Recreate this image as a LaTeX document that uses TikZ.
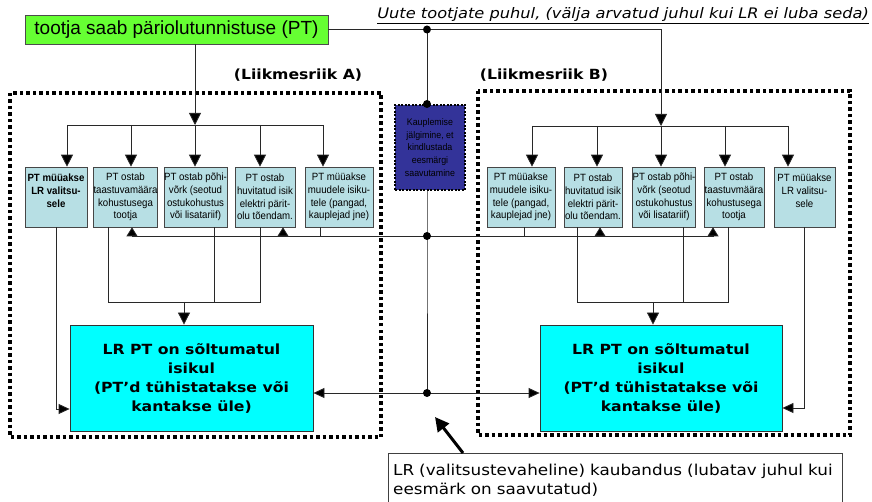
\documentclass[tikz,border=0pt]{standalone}
\usepackage{fontspec}
\setmainfont{Liberation Sans}
\newfontfamily\narrowfont[FakeStretch=0.92]{Liberation Sans}
\newfontfamily\verdfont[FakeStretch=1.12]{DejaVu Sans}
\usetikzlibrary{arrows.meta,calc}
\definecolor{linec}{RGB}{40,40,40}
\definecolor{sboxfill}{RGB}{183,223,228}
\definecolor{boxline}{RGB}{70,70,70}
\definecolor{greenfill}{RGB}{102,255,51}
\definecolor{cyanfill}{RGB}{0,255,255}
\definecolor{bluefill}{RGB}{51,51,153}
\begin{document}
\begin{tikzpicture}[x=1pt,y=-1pt,
  conn/.style={draw=linec, line width=0.8pt},
  arr/.style={conn, -{Triangle[width=12pt,length=12pt,fill=black]}},
  sarr/.style={conn, -{Triangle[width=11pt,length=9pt,fill=black]}},
  harr/.style={conn, -{Triangle[width=10pt,length=11pt,fill=black]}},
  sbox/.style={draw=boxline, fill=sboxfill, line width=0.6pt, minimum height=60pt, inner sep=0pt, align=center, font=\narrowfont\fontsize{10.5}{12.8}\selectfont},
  bigbox/.style={draw=black!80, fill=cyanfill, line width=0.8pt, minimum height=106pt, inner sep=0pt, align=center, font=\verdfont\bfseries\fontsize{14}{19}\selectfont},
  framebox/.style={line width=3.5pt, dash pattern=on 3.5pt off 3pt},
  lbl/.style={font=\verdfont\bfseries\fontsize{14}{16}\selectfont, inner sep=0pt},
  dotfill/.style={fill=black}
]
\useasboundingbox (0,0) rectangle (872,502);

% frames
\draw[framebox] (10,93) rectangle (381,437);
\draw[framebox] (478,91) rectangle (850,435);

% top nodes
\node[draw=black!70, fill=greenfill, line width=0.8pt, minimum width=303pt, minimum height=29pt, inner sep=0pt,
      font=\fontsize{19}{21}\selectfont] (G) at (176.5,29.5) {tootja saab päriolutunnistuse (PT)};
\node[anchor=east, inner sep=0pt, font=\verdfont\itshape\fontsize{14.5}{16}\selectfont] (U) at (869,16)
  {\underline{Uute tootjate puhul, (välja arvatud juhul kui LR ei luba seda)}};
\node[lbl] (LA) at (298,75) {(Liikmesriik A)};
\node[lbl] (LB) at (544,75) {(Liikmesriik B)};

\node[draw=black, fill=bluefill, line width=2pt, dash pattern=on 2pt off 1.5pt, minimum width=70pt, minimum height=85pt,
      inner sep=0pt, align=center, text=black, font=\narrowfont\fontsize{9.6}{12.8}\selectfont] (K) at (430,147.5)
  {Kauplemise\\jälgimine, et\\kindlustada\\eesmärgi\\saavutamine};

% small boxes A
\node[sbox, minimum width=62pt, font=\narrowfont\bfseries\fontsize{10.5}{12.8}\selectfont] (A1) at (56,197) {PT müüakse\\LR valitsu-\\sele\\\mbox{}};
\node[sbox, minimum width=59pt] (A2) at (125.5,197) {PT ostab\\taastuvamäära\\kohustusega\\tootja};
\node[sbox, minimum width=61pt] (A3) at (195.5,197) {PT ostab põhi-\\võrk (seotud\\ostukohustus\\või lisatariif)};
\node[sbox, minimum width=60pt] (A4) at (265,197) {PT ostab\\huvitatud isik\\elektri pärit-\\olu tõendam.};
\node[sbox, minimum width=68pt] (A5) at (339,197) {PT müüakse\\muudele isiku-\\tele (pangad,\\kauplejad jne)};

% small boxes B
\node[sbox, minimum width=68pt] (B1) at (521,197) {PT müüakse\\muudele isiku-\\tele (pangad,\\kauplejad jne)};
\node[sbox, minimum width=58pt] (B2) at (593,197) {PT ostab\\huvitatud isik\\elektri pärit-\\olu tõendam.};
\node[sbox, minimum width=60pt] (B3) at (664,197) {PT ostab põhi-\\võrk (seotud\\ostukohustus\\või lisatariif)};
\node[sbox, minimum width=60pt] (B4) at (734,197) {PT ostab\\taastuvmäära\\kohustusega\\tootja};
\node[sbox, minimum width=61pt] (B5) at (804.5,197) {PT müüakse\\LR valitsu-\\sele\\\mbox{}};

% big boxes
\node[bigbox, minimum width=243pt] (BA) at (191.5,378) {LR PT on sõltumatul\\isikul\\(PT’d tühistatakse või\\kantakse üle)};
\node[bigbox, minimum width=242pt] (BB) at (661,378) {LR PT on sõltumatul\\isikul\\(PT’d tühistatakse või\\kantakse üle)};

% callout
\node[anchor=north west, inner xsep=5pt, inner ysep=0pt, align=left, text width=444pt, minimum width=454pt, minimum height=55pt,
      font=\verdfont\fontsize{15}{19}\selectfont] (C) at (388,453)
  {LR (valitsustevaheline) kaubandus (lubatav juhul kui\\eesmärk on saavutatud)};
\draw[draw=black!75, line width=0.8pt] (C.south west) -- (C.north west) -- (C.north east) -- (C.south east);

% coordinates
\coordinate (T) at (427,29.5);
\coordinate (tB) at (661,29.5);
\coordinate (M) at (427,236);
\coordinate (N) at (427,393);
\coordinate (dA1) at (67,125);
\coordinate (dA2) at (131,125);
\coordinate (dA3) at (195,125);
\coordinate (dA4) at (260,125);
\coordinate (dA5) at (323,125);
\coordinate (dB1) at (532,126);
\coordinate (dB2) at (597,126);
\coordinate (dB3) at (661,126);
\coordinate (dB4) at (725,126);
\coordinate (dB5) at (788,126);
\coordinate (uA2) at (132,236);
\coordinate (uA4) at (283,236);
\coordinate (oA5) at (320,236);
\coordinate (uB2) at (600,236);
\coordinate (uB4) at (713,236);
\coordinate (oB1) at (524,236);
\coordinate (cA2) at (108,302);
\coordinate (cA3) at (214,302);
\coordinate (cA4) at (260,302);
\coordinate (cA) at (184,302);
\coordinate (cB2) at (577,302);
\coordinate (cB3) at (683,302);
\coordinate (cB4) at (728,302);
\coordinate (cB) at (653,302);
\coordinate (lA) at (56,409);
\coordinate (rB) at (804.5,408);
\coordinate (CT) at (435,417);

% top connectors
\draw[conn] (G.east) -- (T) -- (tB);
\draw[arr] (tB) -- (dB3);
\draw[arr] (G.south -| dA3) -- (dA3);
\draw[conn] (T) -- (T |- K.north);
\draw[conn] (K.south -| T) -- (M) -- (N);

% distribution A
\draw[conn] (dA1) -- (dA5);
\draw[arr] (dA1) -- (dA1 |- A1.north);
\draw[arr] (dA2) -- (dA2 |- A2.north);
\draw[arr] (dA3) -- (dA3 |- A3.north);
\draw[arr] (dA4) -- (dA4 |- A4.north);
\draw[arr] (dA5) -- (dA5 |- A5.north);

% distribution B
\draw[conn] (dB1) -- (dB5);
\draw[arr] (dB1) -- (dB1 |- B1.north);
\draw[arr] (dB2) -- (dB2 |- B2.north);
\draw[arr] (dB3) -- (dB3 |- B3.north);
\draw[arr] (dB4) -- (dB4 |- B4.north);
\draw[arr] (dB5) -- (dB5 |- B5.north);

% middle line
\draw[conn] (uA2) -- (uB4);
\draw[sarr] (uA2) -- (uA2 |- A2.south);
\draw[sarr] (uA4) -- (uA4 |- A4.south);
\draw[sarr] (uB2) -- (uB2 |- B2.south);
\draw[sarr] (uB4) -- (uB4 |- B4.south);
\draw[conn] (oA5 |- A5.south) -- (oA5);
\draw[conn] (oB1 |- B1.south) -- (oB1);

% collectors
\draw[conn] (cA2 |- A2.south) -- (cA2) -- (cA4) -- (cA4 |- A4.south);
\draw[conn] (cA3 |- A3.south) -- (cA3);
\draw[arr] (cA) -- (cA |- BA.north);
\draw[conn] (cB2 |- B2.south) -- (cB2) -- (cB4) -- (cB4 |- B4.south);
\draw[conn] (cB3 |- B3.south) -- (cB3);
\draw[arr] (cB) -- (cB |- BB.north);

% side inputs
\draw[harr] (A1.south) -- (lA) -- (lA -| BA.west);
\draw[harr] (B5.south) -- (rB) -- (rB -| BB.east);

% trade line
\draw[harr] (N) -- (N -| BA.east);
\draw[harr] (N) -- (N -| BB.west);

% dots
\fill[dotfill] (T) circle[radius=4pt];
\fill[dotfill] (T |- K.north) circle[radius=4pt];
\fill[dotfill] (M) circle[radius=4pt];
\fill[dotfill] (N) circle[radius=4pt];

% callout arrow
\draw[black, line width=3pt, -{Triangle[width=14pt,length=14pt]}] ($(C.north west)+(75,0)$) -- (CT);
\end{tikzpicture}
\end{document}
